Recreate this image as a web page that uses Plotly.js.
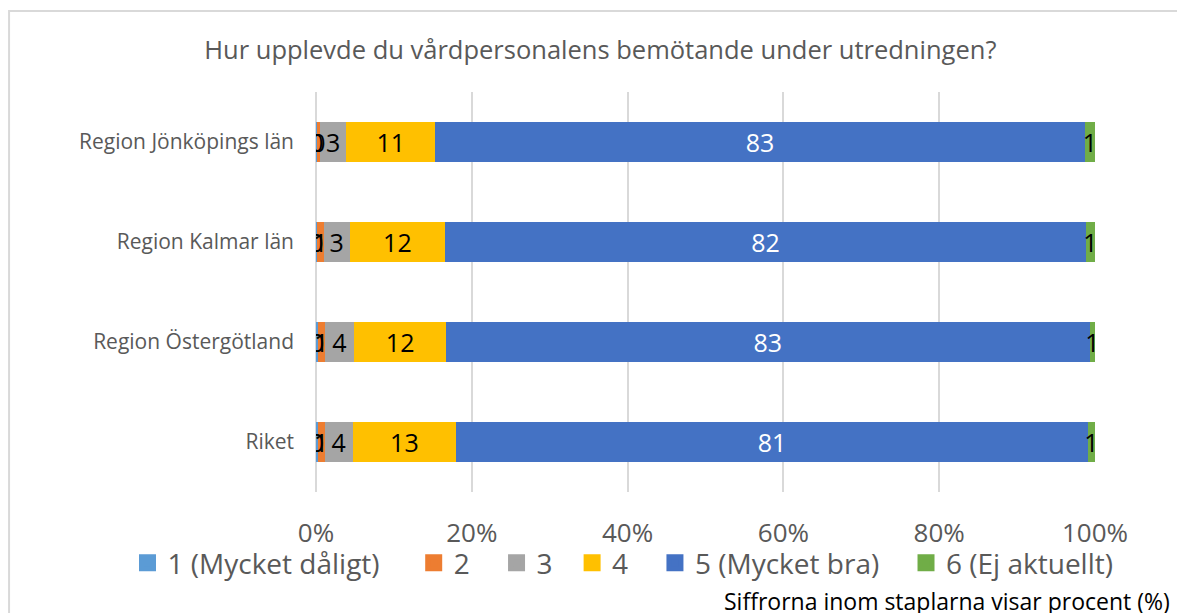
<!DOCTYPE html>
<html>
<head>
<meta charset="utf-8">
<script src="https://cdn.plot.ly/plotly-3.0.1.min.js"></script>
<style>html,body{margin:0;padding:0;background:#fff;}#chart{width:1177px;height:613px;}</style>
</head>
<body>
<div id="chart"></div>
<script>
const categories = ["Region Jönköpings län", "Region Kalmar län", "Region Östergötland", "Riket"];
const seriesNames = ["1 (Mycket dåligt)", "2", "3", "4", "5 (Mycket bra)", "6 (Ej aktuellt)"];
const s1 = [0.1, 0.1, 0.3, 0.2];
const s2 = [0.4, 0.9, 0.8, 0.9];
const s3 = [3.4, 3.3, 3.8, 3.6];
const s4 = [11.4, 12.3, 11.8, 13.3];
const s5 = [83.4, 82.2, 82.6, 81.1];
const s6 = [1.3, 1.2, 0.7, 0.9];
const seriesValues = [s1, s2, s3, s4, s5, s6];
const colors = ["#5B9BD5", "#ED7D31", "#A5A5A5", "#FFC000", "#4472C4", "#70AD47"];
const textColors = ["#000", "#000", "#000", "#000", "#fff", "#000"];
const FONT = "'Open Sans', sans-serif";
// extra legend spacing after each entry (non-breaking spaces)
const legendPad = [4, 3, 2, 3, 3, 0];

// Bars (drawn first)
const barTraces = seriesValues.map((vals, i) => ({
  type: "bar",
  orientation: "h",
  name: seriesNames[i],
  showlegend: false,
  y: categories,
  x: vals,
  marker: {color: colors[i], line: {width: 0}},
  textposition: "none",
  hoverinfo: "skip"
}));

// Legend entries: same series on a hidden axis pair whose range hides them (for bigger legend squares)
const legendTraces = seriesValues.map((vals, i) => ({
  type: "bar",
  orientation: "h",
  name: seriesNames[i] + "\u00A0".repeat(legendPad[i]),
  showlegend: true,
  xaxis: "x3", yaxis: "y3",
  y: categories,
  x: vals,
  marker: {color: colors[i], line: {width: 5, color: colors[i]}},
  textposition: "none",
  hoverinfo: "skip"
}));

// Label layer on an overlaying subplot so all labels sit above all bars
const labelTraces = seriesValues.map((vals, i) => ({
  type: "bar",
  orientation: "h",
  name: seriesNames[i] + " label",
  showlegend: false,
  xaxis: "x2", yaxis: "y2",
  y: categories,
  x: vals,
  marker: {color: "rgba(0,0,0,0)", line: {width: 0}},
  text: vals.map(v => String(Math.round(v))),
  texttemplate: "%{text}",
  textposition: "inside",
  insidetextanchor: "middle",
  textangle: 0,
  constraintext: "none",
  textfont: {family: FONT, size: 25, color: textColors[i]},
  hoverinfo: "skip"
}));

const layout = {
  width: 1177, height: 613,
  margin: {l: 316, r: 82, t: 92, b: 121, pad: 0},
  paper_bgcolor: "#fff", plot_bgcolor: "#fff",
  barmode: "stack",
  bargap: 0.6,
  showlegend: true,
  uniformtext: {mode: "show", minsize: 25},
  font: {family: FONT, color: "#595959"},
  title: {text: "Hur upplevde du vårdpersonalens bemötande under utredningen?",
          font: {family: FONT, size: 25.5, color: "#595959"},
          x: 0.365, xref: "paper", xanchor: "center", y: 0.918, yref: "container", yanchor: "middle"},
  xaxis: {range: [0, 100], dtick: 20, tick0: 0, ticksuffix: "%", showgrid: true,
          gridcolor: "#d9d9d9", gridwidth: 2, zeroline: true, zerolinecolor: "#d9d9d9", zerolinewidth: 2,
          showline: false, ticks: "", ticklabelstandoff: 23,
          tickfont: {family: FONT, size: 26, color: "#595959"}, fixedrange: true},
  yaxis: {type: "category", autorange: "reversed", showgrid: false, zeroline: false, showline: false,
          ticks: "", ticklabelstandoff: 21,
          tickfont: {family: FONT, size: 21, color: "#595959"}, fixedrange: true},
  xaxis2: {overlaying: "x", matches: "x", range: [0, 100], visible: false, showgrid: false, zeroline: false, fixedrange: true},
  yaxis2: {overlaying: "y", type: "category", autorange: "reversed", visible: false, showgrid: false, zeroline: false, fixedrange: true},
  xaxis3: {overlaying: "x", range: [1000, 1001], visible: false, showgrid: false, zeroline: false, fixedrange: true},
  yaxis3: {overlaying: "y", type: "category", visible: false, showgrid: false, zeroline: false, fixedrange: true},
  legend: {orientation: "h", x: -0.242, xanchor: "left", y: -0.1775, yanchor: "middle",
           font: {family: FONT, size: 28, color: "#595959"}, traceorder: "normal",
           bgcolor: "rgba(0,0,0,0)"},
  shapes: [{type: "rect", xref: "paper", yref: "paper", x0: -0.394, x1: 1.2, y0: -0.6, y1: 1.2025,
            line: {color: "#d9d9d9", width: 2}, fillcolor: "rgba(0,0,0,0)", layer: "below"}],
  annotations: [{text: "Siffrorna inom staplarna visar procent (%)", xref: "paper", yref: "paper",
                 x: 1.0989, xanchor: "right", y: -0.272, yanchor: "middle", showarrow: false,
                 font: {family: FONT, size: 23, color: "#000"}}]
};

Plotly.newPlot("chart", barTraces.concat(legendTraces, labelTraces), layout, {displayModeBar: false, staticPlot: true});
</script>
</body>
</html>
